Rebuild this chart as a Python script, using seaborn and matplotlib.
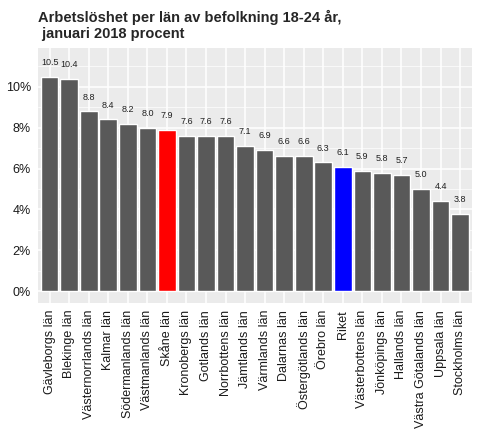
import pandas as pd
import matplotlib.pyplot as plt
import seaborn as sns
from matplotlib.ticker import MultipleLocator, FuncFormatter

# Data
lan = ['Gävleborgs län', 'Blekinge län', 'Västernorrlands län', 'Kalmar län',
       'Södermanlands län', 'Västmanlands län', 'Skåne län', 'Kronobergs län',
       'Gotlands län', 'Norrbottens län', 'Jämtlands län', 'Värmlands län',
       'Dalarnas län', 'Östergötlands län', 'Örebro län', 'Riket',
       'Västerbottens län', 'Jönköpings län', 'Hallands län',
       'Västra Götalands län', 'Uppsala län', 'Stockholms län']
procent = [10.5, 10.4, 8.8, 8.4, 8.2, 8.0, 7.9, 7.6, 7.6, 7.6, 7.1, 6.9,
           6.6, 6.6, 6.3, 6.1, 5.9, 5.8, 5.7, 5.0, 4.4, 3.8]
highlight = {'Skåne län': '#FF0000', 'Riket': '#0000FF'}

df = pd.DataFrame({'lan': lan, 'procent': procent})
palette = {l: highlight.get(l, '#595959') for l in lan}

sns.set_style('darkgrid', {'axes.facecolor': '#EBEBEB', 'grid.color': 'white'})
plt.rcParams['font.family'] = ['Liberation Sans', 'DejaVu Sans']

fig = plt.figure(figsize=(4.8, 4.32), dpi=100)
ax = fig.add_axes([0.079, 0.299, 0.904, 0.59])

sns.barplot(data=df, x='lan', y='procent', hue='lan', palette=palette,
            width=0.9, legend=False, ax=ax, saturation=1)

for i, v in enumerate(procent):
    ax.text(i, v + 0.7, f'{v:.1f}', ha='center', va='center', fontsize=6.5,
            color='#222222')

ax.set_ylim(-0.57, 11.9)
ax.set_xlim(-0.6, len(lan) - 0.4)
ax.yaxis.set_major_locator(MultipleLocator(2))
ax.yaxis.set_minor_locator(MultipleLocator(1))
ax.yaxis.set_major_formatter(FuncFormatter(lambda y, p: f'{y:.0f}%'))
ax.grid(which='major', color='white', linewidth=1.1)
ax.grid(which='minor', axis='y', color='white', linewidth=0.5)
ax.set_axisbelow(True)
for s in ax.spines.values():
    s.set_visible(False)

ax.tick_params(axis='x', rotation=90, labelsize=9, colors='#333333', length=3,
               pad=2, labelcolor='#1a1a1a')
ax.tick_params(axis='y', labelsize=9, colors='#333333', length=3, pad=2,
               labelcolor='#1a1a1a')
ax.tick_params(which='minor', length=0)
ax.set_xlabel('')
ax.set_ylabel('')

fig.text(0.079, 0.978, 'Arbetslöshet per län av befolkning 18-24 år,\n januari 2018 procent',
         ha='left', va='top', fontsize=10.5, fontweight='bold', linespacing=1.2)

fig.savefig('out.png', dpi=100)
